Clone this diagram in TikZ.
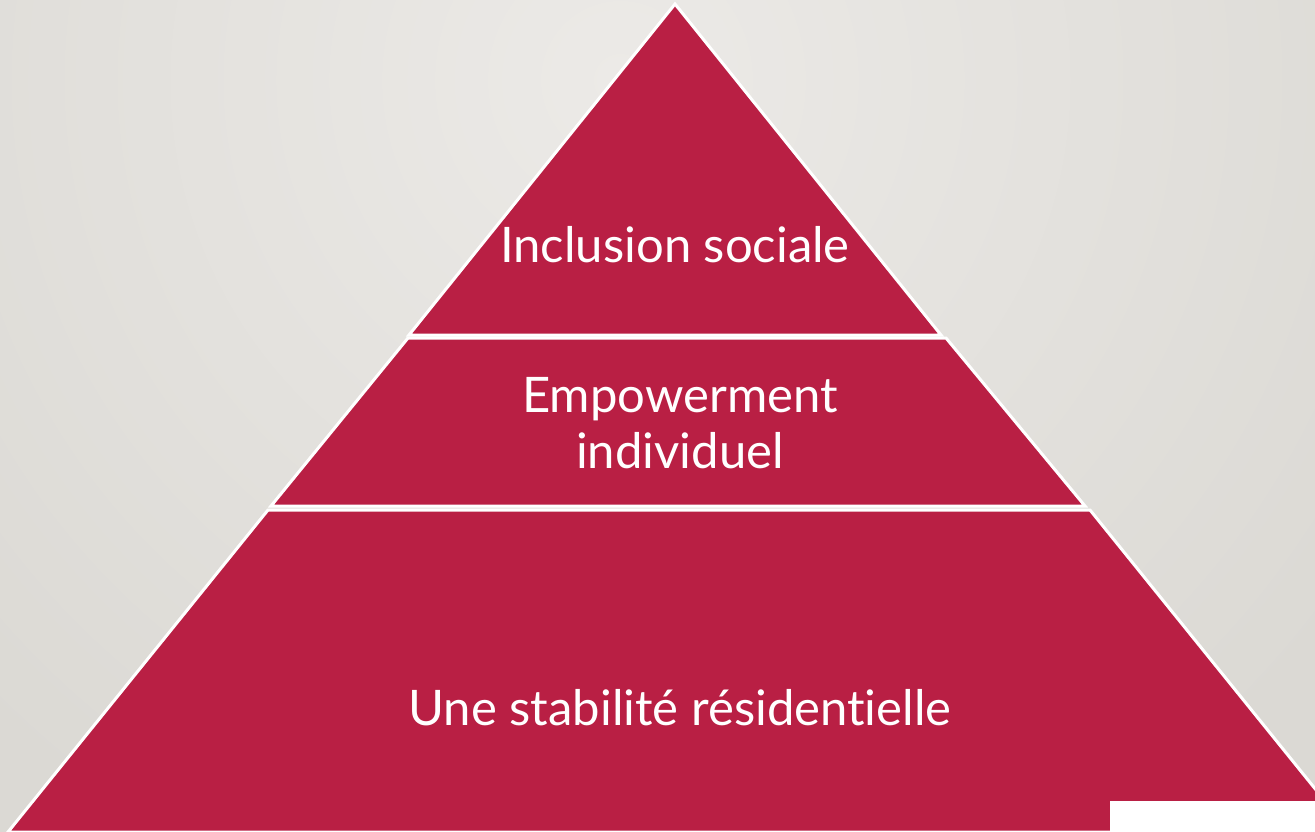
\documentclass[tikz,border=0pt]{standalone}
\usepackage{fontspec}
\setmainfont{Lato}[RawFeature={-liga;-dlig}]
\definecolor{band}{RGB}{185,31,68}
\definecolor{bgout}{RGB}{219,217,212}
\definecolor{bgin}{RGB}{236,234,231}
\tikzset{
  bandshape/.style={fill=band, draw=white, line width=3pt, line join=miter},
  label/.style={text=white, font=\fontsize{49}{56}\selectfont, align=center, inner sep=0pt}
}
\begin{document}
\begin{tikzpicture}[x=1pt,y=-1pt]
\useasboundingbox (0,0) rectangle (1315,832);
\fill[bgout] (0,0) rectangle (1315,832);
\begin{scope}
\clip (0,0) rectangle (1315,832);
\shade[inner color=bgin, outer color=bgout] (620,80) circle[radius=900];
\end{scope}
\begin{scope}
\clip (0,0) rectangle (1315,832);
% bottom band
\draw[bandshape] (268,510) -- (1090,510) -- (1350,832) -- (8,832) -- cycle;
% middle band
\draw[bandshape] (408,338) -- (946,338) -- (1085,506) -- (271,506) -- cycle;
% top band
\draw[bandshape] (675,4) -- (941,335) -- (409,335) -- cycle;
\end{scope}
\fill[white] (1110,801) rectangle (1315,832);
\node[label, anchor=base] (top) at (675,262) {Inclusion sociale};
\node[label, anchor=base] (mid) at (680,468) {Empowerment\\individuel};
\node[label, anchor=base] (bot) at (680,725) {Une stabilité résidentielle};
\end{tikzpicture}
\end{document}
